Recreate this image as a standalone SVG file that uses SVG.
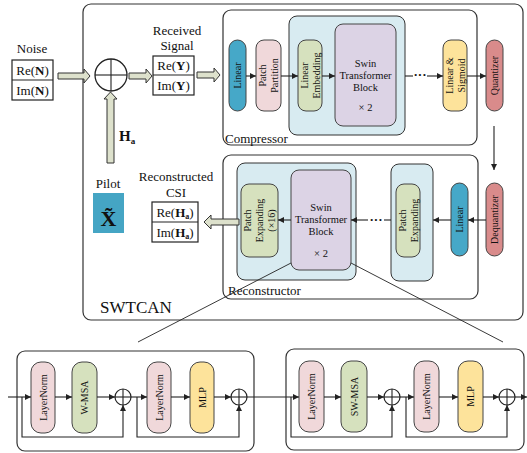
<svg xmlns="http://www.w3.org/2000/svg" width="527" height="453" viewBox="0 0 527 453">
<defs>
<style>
text{font-family:"Liberation Serif","Times New Roman",serif;fill:#111}
.box{fill:none;stroke:#333;stroke-width:1.2}
.lb{fill:#d8ebf1;stroke:#333;stroke-width:1}
.pk{fill:#f0d8da;stroke:#444;stroke-width:1}
.gr{fill:#d6e1be;stroke:#444;stroke-width:1}
.pu{fill:#dcd3e5;stroke:#444;stroke-width:1}
.ye{fill:#fde39b;stroke:#444;stroke-width:1}
.bl{fill:#46a8c8;stroke:#444;stroke-width:1}
.rd{fill:#d98b8b;stroke:#444;stroke-width:1}
.fat{fill:#dde1cc;stroke:#333;stroke-width:1}
.cell{fill:#fff;stroke:#222;stroke-width:1.2}
.ln{fill:none;stroke:#222;stroke-width:1.1}
.thin{fill:none;stroke:#222;stroke-width:0.9}
.t13{font-size:13px;text-anchor:middle}
.pt{font-size:10px;text-anchor:middle}
.st{font-size:10.5px;text-anchor:middle}
.lbl{font-size:13px}
.dots{font-size:13px;font-weight:bold;text-anchor:middle}
</style>
<marker id="ah" viewBox="0 0 8 8" refX="8" refY="4" markerWidth="6" markerHeight="6" orient="auto" markerUnits="userSpaceOnUse">
<path d="M0,0 L8,4 L0,8 z" fill="#222"/>
</marker>
</defs>

<!-- containers -->
<g id="swtcan">
<rect class="box" x="83" y="4" width="440" height="316" rx="8"/>
<text x="100" y="313" style="font-size:17px">SWTCAN</text>
</g>
<g id="compressor">
<rect class="box" x="223" y="10" width="254" height="135" rx="8"/>
<text class="lbl" x="225" y="143">Compressor</text>
<rect class="lb" x="289" y="16" width="116" height="119" rx="8"/>
</g>
<g id="reconstructor">
<rect class="box" x="223" y="155" width="255" height="144" rx="8"/>
<text class="lbl" x="228" y="295">Reconstructor</text>
<rect class="lb" x="237" y="163" width="119" height="117" rx="8"/>
<rect class="lb" x="391" y="164" width="42" height="117" rx="8"/>
</g>

<!-- inputs -->
<g id="noise">
<text class="t13" x="32" y="53">Noise</text>
<rect class="cell" x="12" y="60" width="41" height="40"/>
<line class="ln" x1="12" y1="80" x2="53" y2="80"/>
<text class="t13" x="32.5" y="75">Re(<tspan font-weight="bold">N</tspan>)</text>
<text class="t13" x="32.5" y="95">Im(<tspan font-weight="bold">N</tspan>)</text>
</g>
<g id="adder">
<circle cx="111" cy="75" r="16" fill="#fff" stroke="#222" stroke-width="1.3"/>
<line class="ln" x1="95" y1="75" x2="127" y2="75"/>
<line class="ln" x1="111" y1="59" x2="111" y2="91"/>
</g>
<g id="received">
<text class="t13" x="177" y="35">Received</text>
<text class="t13" x="177" y="50">Signal</text>
<rect class="cell" x="153" y="56" width="41" height="39"/>
<line class="ln" x1="153" y1="75" x2="194" y2="75"/>
<text class="t13" x="173.5" y="70">Re(<tspan font-weight="bold">Y</tspan>)</text>
<text class="t13" x="173.5" y="90">Im(<tspan font-weight="bold">Y</tspan>)</text>
</g>
<g id="pilot">
<text class="t13" x="108" y="188">Pilot</text>
<rect x="93" y="193" width="31" height="40" fill="#45a5c4"/>
<text x="108.5" y="226" text-anchor="middle" font-weight="bold" style="font-size:22px">X̃</text>
</g>
<g id="ha-label">
<text x="119" y="141" font-weight="bold" style="font-size:15px">H<tspan dy="3" style="font-size:9px">a</tspan></text>
</g>
<g id="reconstructed">
<text class="t13" x="176" y="181">Reconstructed</text>
<text class="t13" x="176" y="197">CSI</text>
<rect class="cell" x="152" y="202" width="46" height="40"/>
<line class="ln" x1="152" y1="222" x2="198" y2="222"/>
<text class="t13" x="175" y="217">Re(<tspan font-weight="bold">H<tspan dy="2" style="font-size:8px">a</tspan></tspan><tspan dy="-2">)</tspan></text>
<text class="t13" x="175" y="237">Im(<tspan font-weight="bold">H<tspan dy="2" style="font-size:8px">a</tspan></tspan><tspan dy="-2">)</tspan></text>
</g>

<!-- compressor nodes -->
<g id="c-linear">
<rect class="bl" x="229" y="40" width="17" height="71" rx="8.5"/>
<text class="pt" transform="translate(237.5,75.5) rotate(-90)" dy="0.35em">Linear</text>
</g>
<g id="c-patch">
<rect class="pk" x="256" y="40" width="25" height="71" rx="8"/>
<text class="pt" transform="translate(262.5,75.5) rotate(-90)" dy="0.35em">Patch</text>
<text class="pt" transform="translate(274.5,75.5) rotate(-90)" dy="0.35em">Partition</text>
</g>
<g id="c-embed">
<rect class="gr" x="298" y="40" width="24" height="71" rx="8"/>
<text class="pt" transform="translate(304,75.5) rotate(-90)" dy="0.35em">Linear</text>
<text class="pt" transform="translate(316,75.5) rotate(-90)" dy="0.35em">Embedding</text>
</g>
<g id="c-swin">
<rect class="pu" x="335" y="24" width="61" height="102" rx="8"/>
<text class="st" x="365.5" y="67">Swin</text>
<text class="st" x="365.5" y="79">Transformer</text>
<text class="st" x="365.5" y="91">Block</text>
<text class="st" x="365.5" y="111">× 2</text>
</g>
<g id="c-dots"><text class="dots" x="420" y="79">···</text></g>
<g id="c-sigmoid">
<rect class="ye" x="443" y="40" width="24" height="71" rx="8"/>
<text class="pt" transform="translate(449,75.5) rotate(-90)" dy="0.35em">Linear &amp;</text>
<text class="pt" transform="translate(461,75.5) rotate(-90)" dy="0.35em">Sigmoid</text>
</g>
<g id="quantizer">
<rect class="rd" x="486" y="40" width="17" height="71" rx="8.5"/>
<text class="pt" transform="translate(494.5,75.5) rotate(-90)" dy="0.35em">Quantizer</text>
</g>

<!-- reconstructor nodes -->
<g id="dequantizer">
<rect class="rd" x="486" y="183" width="17" height="73" rx="8.5"/>
<text class="pt" transform="translate(494.5,219.5) rotate(-90)" dy="0.35em">Dequantizer</text>
</g>
<g id="r-linear">
<rect class="bl" x="451" y="183" width="17" height="73" rx="8.5"/>
<text class="pt" transform="translate(459.5,219.5) rotate(-90)" dy="0.35em">Linear</text>
</g>
<g id="r-expand1">
<rect class="gr" x="396" y="184" width="24" height="73" rx="8"/>
<text class="pt" transform="translate(402,220.5) rotate(-90)" dy="0.35em">Patch</text>
<text class="pt" transform="translate(414,220.5) rotate(-90)" dy="0.35em">Expanding</text>
</g>
<g id="r-dots"><text class="dots" x="376" y="224">···</text></g>
<g id="r-swin">
<rect class="pu" x="291" y="170" width="60" height="100" rx="8"/>
<text class="st" x="321" y="211">Swin</text>
<text class="st" x="321" y="223">Transformer</text>
<text class="st" x="321" y="235">Block</text>
<text class="st" x="321" y="257">× 2</text>
</g>
<g id="r-expand16">
<rect class="gr" x="241" y="184" width="37" height="73" rx="8"/>
<text class="pt" transform="translate(247.5,220.5) rotate(-90)" dy="0.35em">Patch</text>
<text class="pt" transform="translate(259.5,220.5) rotate(-90)" dy="0.35em">Expanding</text>
<text class="pt" transform="translate(271.5,220.5) rotate(-90)" dy="0.35em">(×16)</text>
</g>

<!-- detail blocks -->
<g id="block-wmsa">
<rect class="box" x="17" y="351" width="237" height="100" rx="8"/>
<rect class="pk" x="31" y="362" width="24" height="71" rx="10"/>
<text class="pt" transform="translate(43,397.5) rotate(-90)" dy="0.35em">LayerNorm</text>
<rect class="gr" x="72" y="362" width="25" height="71" rx="10"/>
<text class="pt" transform="translate(84.5,397.5) rotate(-90)" dy="0.35em">W-MSA</text>
<circle cx="123" cy="397" r="8" fill="#fff" stroke="#222" stroke-width="1.2"/>
<line class="ln" x1="115" y1="397" x2="131" y2="397"/><line class="ln" x1="123" y1="389" x2="123" y2="405"/>
<rect class="pk" x="147" y="362" width="24" height="71" rx="10"/>
<text class="pt" transform="translate(159,397.5) rotate(-90)" dy="0.35em">LayerNorm</text>
<rect class="ye" x="190" y="362" width="24" height="71" rx="10"/>
<text class="pt" transform="translate(202,397.5) rotate(-90)" dy="0.35em">MLP</text>
<circle cx="239" cy="397" r="8" fill="#fff" stroke="#222" stroke-width="1.2"/>
<line class="ln" x1="231" y1="397" x2="247" y2="397"/><line class="ln" x1="239" y1="389" x2="239" y2="405"/>
</g>
<g id="block-swmsa">
<rect class="box" x="286" y="349" width="238" height="101" rx="8"/>
<rect class="pk" x="299" y="361" width="25" height="71" rx="10"/>
<text class="pt" transform="translate(311.5,396.5) rotate(-90)" dy="0.35em">LayerNorm</text>
<rect class="gr" x="341" y="361" width="26" height="71" rx="10"/>
<text class="pt" transform="translate(354,396.5) rotate(-90)" dy="0.35em">SW-MSA</text>
<circle cx="392" cy="397" r="8" fill="#fff" stroke="#222" stroke-width="1.2"/>
<line class="ln" x1="384" y1="397" x2="400" y2="397"/><line class="ln" x1="392" y1="389" x2="392" y2="405"/>
<rect class="pk" x="414" y="361" width="25" height="71" rx="10"/>
<text class="pt" transform="translate(426.5,396.5) rotate(-90)" dy="0.35em">LayerNorm</text>
<rect class="ye" x="458" y="361" width="25" height="71" rx="10"/>
<text class="pt" transform="translate(470.5,396.5) rotate(-90)" dy="0.35em">MLP</text>
<circle cx="507" cy="397" r="8" fill="#fff" stroke="#222" stroke-width="1.2"/>
<line class="ln" x1="499" y1="397" x2="515" y2="397"/><line class="ln" x1="507" y1="389" x2="507" y2="405"/>
</g>

<!-- connectors -->
<g id="connectors">
<polygon class="fat" points="58,73 84,73 84,69 90,76 84,83 84,79 58,79"/>
<polygon class="fat" points="129,73 146,73 146,69 152,76 146,83 146,79 129,79"/>
<polygon class="fat" points="197,72 214,72 214,68 220,75 214,82 214,78 197,78"/>
<polygon class="fat" points="107,163 107,99 104,99 110.5,92 117,99 114,99 114,163"/>
<polygon class="fat" points="239,219 211,219 211,215 204,222 211,229 211,225 239,225"/>

<line class="ln" x1="246" y1="76" x2="256" y2="76" marker-end="url(#ah)"/>
<line class="ln" x1="281" y1="76" x2="298" y2="76" marker-end="url(#ah)"/>
<line class="ln" x1="322" y1="76" x2="335" y2="76" marker-end="url(#ah)"/>
<line class="ln" x1="405" y1="76" x2="413" y2="76"/>
<line class="ln" x1="427" y1="76" x2="443" y2="76" marker-end="url(#ah)"/>
<line class="ln" x1="467" y1="76" x2="486" y2="76" marker-end="url(#ah)"/>
<line class="ln" x1="494" y1="126" x2="494" y2="170" marker-end="url(#ah)"/>

<line class="ln" x1="486" y1="220" x2="468" y2="220" marker-end="url(#ah)"/>
<line class="ln" x1="451" y1="220" x2="433" y2="220" marker-end="url(#ah)"/>
<line class="ln" x1="391" y1="220" x2="384" y2="220"/>
<line class="ln" x1="368" y1="220" x2="351" y2="220" marker-end="url(#ah)"/>
<line class="ln" x1="291" y1="220" x2="278" y2="220" marker-end="url(#ah)"/>

<line class="thin" x1="291" y1="263" x2="138" y2="342"/>
<line class="thin" x1="351" y1="263" x2="503" y2="342"/>

<line class="ln" x1="8" y1="397" x2="31" y2="397" marker-end="url(#ah)"/>
<line class="ln" x1="55" y1="397" x2="72" y2="397" marker-end="url(#ah)"/>
<line class="ln" x1="97" y1="397" x2="115" y2="397" marker-end="url(#ah)"/>
<line class="ln" x1="131" y1="397" x2="147" y2="397" marker-end="url(#ah)"/>
<line class="ln" x1="171" y1="397" x2="190" y2="397" marker-end="url(#ah)"/>
<line class="ln" x1="214" y1="397" x2="231" y2="397" marker-end="url(#ah)"/>
<polyline class="ln" points="22,397 22,437 123,437 123,405" marker-end="url(#ah)"/>
<polyline class="ln" points="137,397 137,437 239,437 239,405" marker-end="url(#ah)"/>
<line class="ln" x1="247" y1="397" x2="299" y2="397" marker-end="url(#ah)"/>
<line class="ln" x1="324" y1="397" x2="341" y2="397" marker-end="url(#ah)"/>
<line class="ln" x1="367" y1="397" x2="384" y2="397" marker-end="url(#ah)"/>
<line class="ln" x1="400" y1="397" x2="414" y2="397" marker-end="url(#ah)"/>
<line class="ln" x1="439" y1="397" x2="458" y2="397" marker-end="url(#ah)"/>
<line class="ln" x1="483" y1="397" x2="499" y2="397" marker-end="url(#ah)"/>
<line class="ln" x1="515" y1="397" x2="527" y2="397" marker-end="url(#ah)"/>
<polyline class="ln" points="291,397 291,437 392,437 392,405" marker-end="url(#ah)"/>
<polyline class="ln" points="406,397 406,437 507,437 507,405" marker-end="url(#ah)"/>
</g>
</svg>
